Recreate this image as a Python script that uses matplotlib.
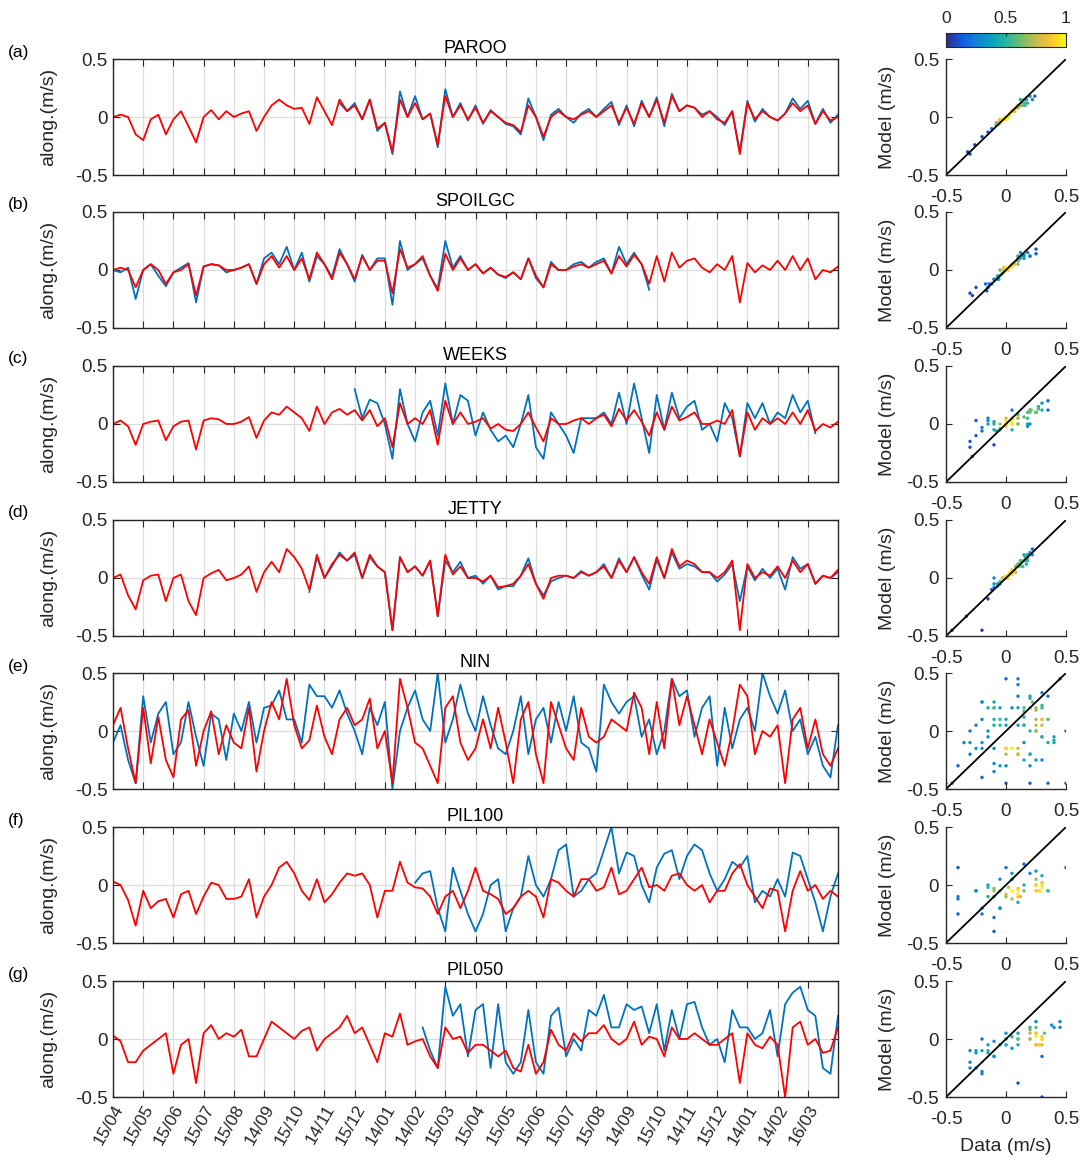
import numpy as np
import matplotlib
matplotlib.use("Agg")
import matplotlib.pyplot as plt
from matplotlib.colors import LinearSegmentedColormap, Normalize
from matplotlib.cm import ScalarMappable

plt.rcParams["font.family"] = ["Liberation Sans", "DejaVu Sans"]

# --- data: along-shore velocity, 4 samples per month, model (red) and obs (blue) ---
STEPS_PER_MONTH = 4

month_labels = ["15/04", "15/05", "15/06", "15/07", "15/08", "14/09", "15/10", "14/11",
                "15/12", "14/01", "14/02", "15/03", "15/04", "15/05", "15/06", "15/07",
                "15/08", "14/09", "15/10", "14/11", "15/12", "14/01", "14/02", "16/03"]

stations = ["PAROO", "SPOILGC", "WEEKS", "JETTY", "NIN", "PIL100", "PIL050"]
panel_tags = ["(a)", "(b)", "(c)", "(d)", "(e)", "(f)", "(g)"]

paroo_model = [0.0, 0.02, 0.0, -0.15, -0.2, -0.02, 0.02, -0.15, -0.02, 0.05, -0.08, -0.22,
               0.0, 0.06, -0.02, 0.05, 0.0, 0.03, 0.05, -0.12, 0.0, 0.1, 0.15, 0.1,
               0.07, 0.08, -0.06, 0.17, 0.05, -0.07, 0.15, 0.05, 0.1, -0.02, 0.15, -0.1,
               -0.05, -0.3, 0.15, 0.0, 0.12, -0.02, 0.03, -0.24, 0.18, 0.0, 0.1, -0.02,
               0.08, -0.05, 0.05, 0.0, -0.05, -0.07, -0.13, 0.1, 0.0, -0.17, 0.0, 0.05,
               0.0, -0.02, 0.02, 0.05, 0.0, 0.05, 0.1, -0.05, 0.08, -0.06, 0.12, 0.0,
               0.15, -0.05, 0.18, 0.05, 0.1, 0.08, 0.0, 0.05, -0.02, -0.05, 0.05, -0.32,
               0.12, -0.02, 0.05, 0.0, -0.03, 0.03, 0.12, 0.05, 0.1, -0.06, 0.05, -0.03, 0.0]
paroo_obs_from = 7.5
paroo_obs = [0.12, 0.05, 0.12, -0.02, 0.15, -0.12, -0.05, -0.32, 0.22, 0.0,
             0.18, -0.02, 0.03, -0.26, 0.24, 0.0, 0.12, -0.03, 0.1, -0.06, 0.06, 0.0,
             -0.06, -0.08, -0.15, 0.16, 0.0, -0.2, 0.02, 0.07, 0.0, -0.05, 0.03, 0.07,
             0.0, 0.07, 0.13, -0.07, 0.1, -0.08, 0.14, 0.0, 0.17, -0.08, 0.2, 0.05,
             0.1, 0.08, 0.02, 0.05, 0.0, -0.07, 0.05, -0.3, 0.14, -0.04, 0.07, 0.0,
             -0.03, 0.03, 0.16, 0.07, 0.14, -0.06, 0.07, -0.05, 0.02]

spoilgc_model = [0.0, 0.02, 0.0, -0.15, 0.0, 0.05, 0.0, -0.12, -0.02, 0.0, 0.05, -0.22,
                 0.03, 0.05, 0.04, 0.0, 0.0, 0.02, 0.05, -0.12, 0.05, 0.12, 0.02, 0.12,
                 0.0, 0.1, -0.08, 0.15, 0.05, -0.08, 0.15, 0.05, -0.08, 0.12, 0.0, 0.08,
                 0.08, -0.2, 0.18, 0.02, 0.05, 0.12, -0.05, -0.18, 0.14, 0.0, 0.1, 0.0,
                 0.05, -0.03, 0.02, -0.04, -0.06, -0.02, -0.08, 0.1, -0.05, -0.15, 0.05, 0.0,
                 0.0, 0.03, 0.05, 0.02, 0.05, 0.08, -0.03, 0.12, 0.03, 0.13, 0.05, -0.12,
                 0.12, -0.1, 0.15, 0.02, 0.08, 0.1, 0.02, -0.02, 0.05, 0.0, 0.12, -0.28,
                 0.06, -0.02, 0.04, 0.0, 0.08, 0.0, 0.12, 0.0, 0.1, -0.08, 0.0, -0.02, 0.03]
spoilgc_obs_from = 0.0
spoilgc_obs = [0.0, -0.02, 0.02, -0.25, 0.0, 0.05, -0.05, -0.14, -0.02, 0.02, 0.06, -0.28,
               0.03, 0.05, 0.04, -0.02, 0.0, 0.02, 0.05, -0.12, 0.1, 0.15, 0.05, 0.2,
               0.0, 0.15, -0.1, 0.12, 0.05, -0.06, 0.18, 0.05, -0.1, 0.13, 0.0, 0.1,
               0.1, -0.3, 0.25, 0.0, 0.05, 0.1, -0.05, -0.16, 0.25, 0.02, 0.12, 0.0,
               0.05, -0.03, 0.02, -0.04, -0.07, -0.02, -0.08, 0.1, -0.07, -0.15, 0.07, 0.0,
               0.0, 0.05, 0.07, 0.02, 0.07, 0.1, -0.03, 0.2, 0.05, 0.15, 0.05, -0.17]

weeks_model = [0.0, 0.03, -0.02, -0.18, 0.0, 0.02, 0.03, -0.14, -0.02, 0.02, 0.03, -0.22,
               0.03, 0.05, 0.04, 0.0, 0.0, 0.02, 0.06, -0.12, 0.03, 0.1, 0.08, 0.15,
               0.1, 0.05, -0.06, 0.15, 0.0, 0.1, 0.13, 0.08, 0.12, 0.03, 0.12, -0.02,
               0.05, -0.2, 0.18, 0.0, 0.05, 0.0, 0.12, -0.18, 0.2, 0.0, 0.1, 0.0,
               0.02, 0.05, -0.04, 0.0, -0.05, -0.06, 0.0, 0.1, -0.03, -0.15, 0.05, 0.0,
               0.0, 0.03, 0.05, 0.0, 0.05, 0.08, -0.02, 0.13, 0.03, 0.12, 0.02, -0.1,
               0.1, -0.05, 0.15, 0.03, 0.06, 0.1, 0.0, 0.0, 0.03, 0.0, 0.12, -0.28,
               0.1, -0.05, 0.05, 0.0, 0.05, 0.0, 0.1, 0.0, 0.12, -0.06, 0.0, -0.03, 0.02]
weeks_obs_from = 8.0
weeks_obs = [0.3, 0.05, 0.21, 0.18, 0.0, -0.3, 0.3, 0.0, -0.15, 0.1, 0.2, -0.1,
             0.35, 0.0, 0.25, 0.2, -0.1, 0.1, -0.05, -0.15, -0.1, -0.2, 0.0, 0.25,
             -0.2, -0.3, 0.1, 0.0, -0.1, -0.25, 0.05, 0.05, 0.05, 0.1, 0.0, 0.27,
             0.0, 0.35, 0.05, -0.25, 0.25, -0.05, 0.27, 0.05, 0.15, 0.2, -0.05, 0.0,
             -0.15, 0.18, 0.05, -0.28, 0.18, 0.05, 0.18, 0.0, 0.1, 0.05, 0.25, 0.1,
             0.2, -0.08]

jetty_model = [0.0, 0.03, -0.15, -0.27, -0.02, 0.02, 0.03, -0.2, 0.0, 0.03, -0.2, -0.32,
               0.0, 0.04, 0.07, -0.02, 0.0, 0.03, 0.1, -0.12, 0.05, 0.14, 0.05, 0.25,
               0.18, 0.08, -0.1, 0.2, 0.0, 0.12, 0.2, 0.15, 0.22, 0.0, 0.2, 0.1,
               0.05, -0.45, 0.18, 0.05, 0.1, 0.02, 0.15, -0.33, 0.2, 0.03, 0.1, 0.0,
               0.0, -0.03, 0.02, -0.08, -0.07, -0.05, 0.02, 0.12, -0.05, -0.18, 0.0, 0.02,
               0.02, 0.0, 0.05, 0.02, 0.05, 0.1, 0.0, 0.15, 0.05, 0.18, 0.05, -0.05,
               0.18, 0.0, 0.25, 0.1, 0.15, 0.12, 0.05, 0.05, 0.0, 0.05, 0.15, -0.45,
               0.12, 0.0, 0.05, 0.02, 0.1, 0.0, 0.15, 0.05, 0.12, -0.05, 0.02, 0.0, 0.07]
jetty_obs_from = 6.5
jetty_obs = [-0.12, 0.18, 0.0, 0.1, 0.22, 0.15, 0.2, 0.0, 0.18, 0.1,
             0.05, -0.45, 0.18, 0.05, 0.1, 0.02, 0.15, -0.33, 0.15, 0.05, 0.14, 0.0,
             0.02, -0.05, 0.02, -0.1, -0.07, -0.07, 0.02, 0.17, -0.05, -0.15, -0.03, 0.0,
             0.02, 0.0, 0.06, 0.02, 0.05, 0.12, 0.0, 0.17, 0.05, 0.18, 0.03, -0.1,
             0.16, 0.0, 0.22, 0.08, 0.12, 0.1, 0.05, 0.05, -0.03, 0.03, 0.12, -0.2,
             0.1, -0.02, 0.08, 0.0, 0.08, -0.1, 0.18, 0.08, 0.12, -0.05, 0.02, 0.0, 0.05]

nin_model = [0.05, 0.2, -0.15, -0.45, 0.2, -0.28, 0.12, -0.25, -0.4, 0.1, 0.18, -0.3,
             0.0, 0.17, -0.2, 0.05, -0.1, -0.15, 0.2, -0.35, 0.0, 0.25, 0.1, 0.45,
             0.05, -0.15, -0.08, 0.22, -0.05, -0.2, 0.1, 0.2, 0.05, 0.1, 0.28, -0.15,
             0.0, -0.45, 0.45, 0.2, -0.1, -0.15, -0.3, -0.45, 0.2, 0.3, -0.1, -0.25,
             -0.15, 0.1, -0.15, 0.2, -0.1, -0.45, 0.1, 0.25, -0.2, -0.45, 0.25, 0.05,
             -0.15, -0.25, 0.2, -0.05, -0.1, -0.05, 0.1, 0.05, 0.0, 0.33, 0.2, -0.2,
             0.25, -0.15, 0.45, 0.05, 0.3, 0.05, -0.2, 0.1, -0.1, -0.3, 0.0, 0.4,
             0.3, -0.2, 0.0, -0.05, 0.05, -0.45, 0.1, 0.2, -0.15, 0.1, -0.2, -0.3, -0.15]
nin_obs_from = 0.0
nin_obs = [-0.1, 0.05, -0.25, -0.45, 0.3, -0.1, 0.15, 0.25, -0.2, -0.1, 0.25, -0.05,
           -0.3, 0.15, 0.1, -0.25, 0.15, 0.0, 0.25, -0.1, 0.2, 0.22, 0.35, 0.1,
           0.1, -0.1, 0.4, 0.3, 0.3, 0.2, 0.35, 0.15, 0.0, -0.2, 0.2, 0.05,
           0.25, -0.5, 0.0, 0.2, 0.35, 0.1, 0.0, 0.5, -0.1, 0.1, 0.4, 0.15,
           0.0, 0.3, 0.05, -0.15, -0.2, 0.0, 0.3, -0.2, 0.1, 0.2, -0.1, 0.25,
           0.0, 0.3, -0.1, -0.15, -0.35, 0.4, 0.25, 0.15, 0.25, 0.3, -0.05, 0.1,
           -0.2, 0.0, 0.45, 0.3, 0.35, -0.05, 0.2, 0.3, -0.3, 0.2, -0.15, 0.1,
           0.2, 0.0, 0.5, 0.3, 0.15, 0.35, 0.0, 0.1, -0.2, -0.05, -0.3, -0.4, 0.05]

pil100_model = [0.03, 0.0, -0.13, -0.35, -0.05, -0.2, -0.14, -0.12, -0.28, -0.08, -0.05, -0.25,
                -0.1, 0.02, 0.0, -0.12, -0.12, -0.1, 0.05, -0.28, -0.1, 0.0, 0.15, 0.2,
                0.1, -0.05, -0.13, 0.05, -0.15, -0.08, 0.02, 0.1, 0.08, 0.1, 0.0, -0.28,
                -0.05, -0.05, 0.2, 0.02, -0.02, -0.03, -0.1, -0.25, -0.1, -0.05, -0.2, -0.05,
                0.15, -0.05, -0.08, -0.12, -0.25, -0.2, -0.1, -0.05, -0.1, -0.28, 0.05, 0.02,
                -0.05, -0.1, 0.05, 0.05, -0.05, -0.02, 0.15, -0.08, -0.05, 0.05, 0.15, -0.02,
                0.0, -0.05, 0.08, 0.1, 0.0, -0.05, 0.0, -0.15, -0.05, -0.05, 0.1, 0.18,
                0.0, -0.1, -0.2, -0.03, -0.05, -0.4, -0.05, 0.12, -0.05, 0.0, -0.12, -0.05, -0.1]
pil100_obs_from = 10.0
pil100_obs = [0.02, 0.1, 0.12, -0.2, -0.4, 0.15, -0.05, -0.25, -0.4, -0.25, 0.0, 0.05,
              -0.4, -0.2, -0.1, 0.25, 0.0, -0.1, 0.05, 0.3, 0.35, -0.1, -0.05, 0.05,
              0.1, 0.3, 0.5, 0.1, 0.28, 0.25, 0.0, -0.15, 0.15, 0.27, 0.3, 0.05,
              0.25, 0.35, 0.3, 0.1, -0.05, 0.05, 0.2, 0.15, 0.25, -0.15, -0.05, -0.1,
              0.05, -0.1, 0.28, 0.25, 0.05, -0.15, -0.4, -0.1, 0.1]

pil050_model = [0.03, -0.02, -0.2, -0.2, -0.1, -0.05, 0.0, 0.05, -0.3, -0.05, 0.0, -0.38,
                0.05, 0.12, 0.0, 0.05, 0.02, 0.08, -0.15, -0.15, 0.0, 0.15, 0.1, 0.05,
                0.0, 0.07, 0.1, -0.1, 0.0, 0.05, 0.1, 0.2, 0.05, 0.1, -0.05, -0.2,
                0.05, 0.02, 0.22, -0.05, -0.02, 0.0, -0.15, -0.25, 0.1, 0.0, 0.02, -0.12,
                -0.05, -0.05, -0.1, -0.15, -0.1, -0.25, -0.28, -0.05, -0.3, -0.2, 0.08, -0.05,
                -0.1, 0.05, -0.02, 0.05, 0.05, 0.12, 0.0, -0.05, 0.0, 0.15, -0.05, 0.02,
                0.0, -0.15, 0.1, 0.0, 0.0, 0.05, 0.0, -0.05, -0.05, 0.0, 0.05, -0.38,
                0.05, -0.05, -0.08, 0.02, -0.05, -0.5, 0.1, 0.15, -0.05, 0.0, -0.12, -0.1, 0.1]
pil050_obs_from = 10.25
pil050_obs = [0.1, -0.1, -0.25, 0.45, 0.2, 0.3, -0.15, 0.25, 0.3, -0.25, 0.3,
              -0.2, -0.3, -0.2, 0.25, -0.2, -0.3, 0.2, 0.27, -0.15, 0.0, -0.1, 0.25,
              0.2, 0.38, 0.1, 0.1, 0.3, 0.25, 0.28, 0.05, 0.3, -0.1, 0.25, 0.0,
              0.3, 0.32, 0.1, -0.05, 0.0, -0.2, 0.25, 0.1, 0.1, 0.0, 0.05, 0.25,
              -0.15, 0.3, 0.4, 0.45, 0.25, 0.2, -0.25, -0.3, 0.2]

models = [paroo_model, spoilgc_model, weeks_model, jetty_model, nin_model, pil100_model, pil050_model]
observations = [(paroo_obs_from, paroo_obs), (spoilgc_obs_from, spoilgc_obs),
                (weeks_obs_from, weeks_obs), (jetty_obs_from, jetty_obs),
                (nin_obs_from, nin_obs), (pil100_obs_from, pil100_obs),
                (pil050_obs_from, pil050_obs)]

# MATLAB parula, approximated
parula = LinearSegmentedColormap.from_list("parula", [
    (0.2081, 0.1663, 0.5292), (0.0590, 0.3598, 0.8683), (0.0780, 0.5040, 0.8384),
    (0.0239, 0.6287, 0.7654), (0.1540, 0.7120, 0.6280), (0.4420, 0.7500, 0.4220),
    (0.7763, 0.7357, 0.2765), (0.9883, 0.7553, 0.2186), (0.9763, 0.9831, 0.0538)])

BLUE = "#0072BD"
RED = "#FF0000"
AXC = "#262626"


def point_density(x, y, bw=0.05):
    dx = x[:, None] - x[None, :]
    dy = y[:, None] - y[None, :]
    d = np.exp(-(dx ** 2 + dy ** 2) / (2 * bw ** 2)).sum(axis=1)
    return d / d.max()


W, H = 1084, 1162
fig = plt.figure(figsize=(W / 100, H / 100), dpi=100)

tops = [59, 212, 366, 520, 673, 827, 981]
row_h = 116
ts_left, ts_w = 113, 725
sc_left, sc_w = 946, 120

for k, (name, tag) in enumerate(zip(stations, panel_tags)):
    model = np.array(models[k], dtype=float)
    n = len(model)
    t = np.arange(n) / STEPS_PER_MONTH
    start, vals = observations[k]
    i0 = int(round(start * STEPS_PER_MONTH))
    obs = np.full(n, np.nan)
    obs[i0:i0 + len(vals)] = vals

    bottom = 1 - (tops[k] + row_h) / H
    ax = fig.add_axes([ts_left / W, bottom, ts_w / W, row_h / H])
    ax.plot(t, obs, color=BLUE, lw=1.3)
    ax.plot(t, model, color=RED, lw=1.3)
    ax.set_xlim(0, 24)
    ax.set_ylim(-0.5, 0.5)
    ax.set_xticks(range(len(month_labels)))
    ax.set_yticks([-0.5, 0, 0.5])
    ax.set_yticklabels(["-0.5", "0", "0.5"])
    ax.grid(True, color="#dcdcdc", lw=0.9)
    ax.set_axisbelow(True)
    ax.tick_params(direction="in", length=5, width=0.8, top=True, right=True,
                   labelsize=13.5, colors=AXC, pad=4)
    for s in ax.spines.values():
        s.set_color(AXC)
        s.set_linewidth(1.0)
    if k == len(stations) - 1:
        ax.set_xticklabels(month_labels, rotation=60, ha="right", rotation_mode="anchor",
                           fontsize=12.5)
    else:
        ax.set_xticklabels([])
    ax.set_ylabel("along.(m/s)", fontsize=14, color=AXC)
    ax.yaxis.set_label_coords(-0.077, 0.5)
    ax.set_title(name, fontsize=13, color="black", pad=4)
    fig.text(8 / W, 1 - (tops[k] - 7) / H, tag, fontsize=12.5, va="center", ha="left")

    # scatter: model vs observation, coloured by point density
    mask = ~np.isnan(obs)
    xs, ys = obs[mask], model[mask]
    dens = point_density(xs, ys)
    order = np.argsort(dens)
    sx = fig.add_axes([sc_left / W, bottom, sc_w / W, row_h / H])
    sx.scatter(xs[order], ys[order], c=dens[order], cmap=parula, vmin=0, vmax=1,
               s=6, edgecolors="none")
    sx.plot([-0.5, 0.5], [-0.5, 0.5], color="black", lw=1.3)
    sx.set_xlim(-0.5, 0.5)
    sx.set_ylim(-0.5, 0.5)
    sx.set_xticks([-0.5, 0, 0.5])
    sx.set_yticks([-0.5, 0, 0.5])
    sx.set_xticklabels(["-0.5", "0", "0.5"])
    sx.set_yticklabels(["-0.5", "0", "0.5"])
    sx.spines["top"].set_visible(False)
    sx.spines["right"].set_visible(False)
    for s in ("left", "bottom"):
        sx.spines[s].set_color(AXC)
        sx.spines[s].set_linewidth(1.0)
    sx.tick_params(direction="in", length=4, width=0.8, labelsize=13.5, colors=AXC)
    sx.tick_params(axis="x", pad=10)
    sx.tick_params(axis="y", pad=5)
    sx.set_ylabel("Model (m/s)", fontsize=14, color=AXC)
    sx.yaxis.set_label_coords(-0.42, 0.5)
    if k == len(stations) - 1:
        sx.set_xlabel("Data (m/s)", fontsize=14, color=AXC, labelpad=7)

cax = fig.add_axes([sc_left / W, 1 - 47 / H, sc_w / W, 14 / H])
cb = fig.colorbar(ScalarMappable(norm=Normalize(0, 1), cmap=parula), cax=cax,
                  orientation="horizontal", ticks=[0, 0.5, 1])
cb.ax.xaxis.set_ticks_position("top")
cb.ax.set_xticklabels(["0", "0.5", "1"])
cb.ax.tick_params(labelsize=12.5, colors=AXC, length=2, direction="in", pad=5)
cb.outline.set_edgecolor(AXC)
cb.outline.set_linewidth(0.8)

fig.savefig("out.png", dpi=100)
